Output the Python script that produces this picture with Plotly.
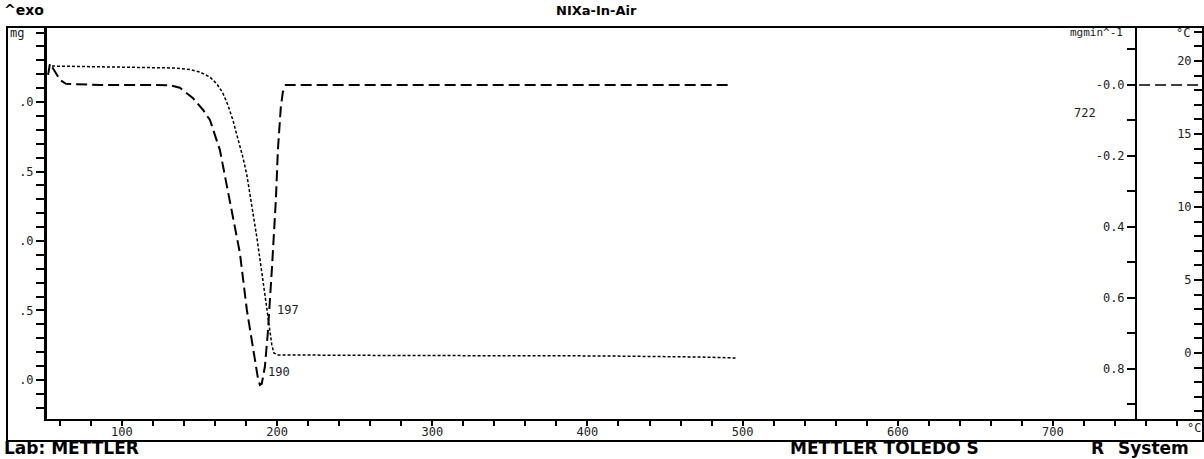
import plotly.graph_objects as go

# ---- data ----
# TGA curve (dotted), mass in mg vs temperature in °C
tga_T = [54.9, 85.8, 118.0, 134.1, 143.8, 150.2, 156.7, 161.2, 165.0, 168.3, 171.5, 174.7,
         177.9, 180.5, 183.7, 186.9, 190.1, 193.4, 195.3, 196.6, 197.9, 200.5, 279.0, 407.8,
         472.2, 496.6]
tga_mg = [4.259, 4.252, 4.248, 4.245, 4.234, 4.216, 4.180, 4.130, 4.065, 3.978, 3.870, 3.741,
          3.604, 3.475, 3.259, 3.029, 2.777, 2.504, 2.338, 2.252, 2.194, 2.180, 2.176, 2.173,
          2.165, 2.158]

# DTG curve (dashed), mg/min vs temperature in °C
dtg_T = [52.4, 53.6, 56.9, 60.1, 63.9, 85.8, 118.0, 130.9, 137.3, 145.7, 152.2, 156.7, 163.1,
         167.6, 172.1, 176.0, 180.5, 184.4, 187.6, 188.9, 190.1, 192.1, 194.0, 196.6, 199.2,
         200.5, 202.4, 203.7, 205.6, 491.5]
dtg_v = [0.028, 0.060, 0.037, 0.014, 0.003, 0.0, 0.0, -0.001, -0.008, -0.037, -0.070, -0.099,
         -0.183, -0.287, -0.380, -0.473, -0.634, -0.746, -0.825, -0.845, -0.842, -0.794, -0.699,
         -0.521, -0.324, -0.183, -0.062, -0.020, 0.0, 0.0]

# short dashed baseline mark to the right of the DTG axis
mark_T = [755.5, 794.0]
mark_v = [0.0, 0.0]

# axis ticks
x_ticks = [100, 200, 300, 400, 500, 600, 700]
mg_ticks = [2.0, 2.5, 3.0, 3.5, 4.0]
mg_labels = [".0", ".5", ".0", ".5", ".0"]
dtg_ticks = [0.0, -0.2, -0.4, -0.6, -0.8]
dtg_labels = ["-0.0", "-0.2", "0.4", "0.6", "0.8"]
temp_ticks = [0, 5, 10, 15, 20]
temp_labels = ["0", "5", "10", "15", "20"]

# peak annotations
peaks = [("197", 197), ("190", 190)]

W, H = 1204, 459
L, R, T, B = 47, 1, 27, 40
PW = W - L - R
PH = H - T - B


def px(x):
    return (x - L) / PW


def py(y):
    return (H - B - y) / PH


tick_font = dict(family="DejaVu Sans Mono", size=12, color="#222")

fig = go.Figure()
fig.add_trace(go.Scatter(x=tga_T, y=tga_mg, mode="lines", yaxis="y",
                         line=dict(color="black", width=1.5, dash="3px,2px"), hoverinfo="skip"))
fig.add_trace(go.Scatter(x=dtg_T, y=dtg_v, mode="lines", yaxis="y2",
                         line=dict(color="black", width=2, dash="11px,5px"), hoverinfo="skip"))
fig.add_trace(go.Scatter(x=mark_T, y=mark_v, mode="lines", yaxis="y2",
                         line=dict(color="black", width=1.5, dash="11px,5px"), hoverinfo="skip"))
fig.add_trace(go.Scatter(x=[None], y=[None], mode="lines", yaxis="y3", hoverinfo="skip"))

axis_common = dict(showgrid=False, zeroline=False, showline=True, linecolor="black",
                   ticks="outside", tickcolor="black", tickfont=tick_font)

fig.update_layout(
    width=W, height=H,
    margin=dict(l=L, r=R, t=T, b=B, pad=0),
    paper_bgcolor="white", plot_bgcolor="white",
    showlegend=False, hovermode=False,
    xaxis=dict(axis_common, range=[51.7, 796.7], tickmode="array", tickvals=x_ticks,
               ticklen=5, tickwidth=2, linewidth=2, ticklabelstandoff=-4,
               minor=dict(tickmode="linear", tick0=0, dtick=20, ticks="outside",
                          ticklen=5, tickwidth=2, tickcolor="black")),
    yaxis=dict(axis_common, range=[1.719, 4.540], tickmode="array", tickvals=mg_ticks,
               ticktext=mg_labels, ticklen=8, tickwidth=1.5, linewidth=3,
               minor=dict(tickmode="linear", tick0=0, dtick=0.1, ticks="outside",
                          ticklen=8, tickwidth=1.5, tickcolor="black")),
    yaxis2=dict(axis_common, overlaying="y", anchor="free", side="left",
                position=px(1136), range=[-0.941, 0.163], tickmode="array",
                tickvals=dtg_ticks, ticktext=dtg_labels, ticklen=8, tickwidth=1.5, linewidth=2,
                minor=dict(tickmode="linear", tick0=0, dtick=0.1, ticks="outside",
                           ticklen=8, tickwidth=1.5, tickcolor="black")),
    yaxis3=dict(axis_common, overlaying="y", anchor="free", side="left",
                position=1.0, range=[-4.52, 22.33], tickmode="array",
                tickvals=temp_ticks, ticktext=temp_labels, ticklen=8, tickwidth=1.5, linewidth=2,
                minor=dict(tickmode="linear", tick0=0, dtick=1, ticks="outside",
                           ticklen=8, tickwidth=1.5, tickcolor="black")),
)

# frame
frame = dict(type="line", xref="paper", yref="paper", line=dict(color="black", width=2))
fig.add_shape(frame, x0=px(6), x1=px(1204), y0=py(27), y1=py(27))
fig.add_shape(frame, x0=px(7), x1=px(7), y0=py(27), y1=py(441))
fig.add_shape(frame, x0=px(6), x1=px(1204), y0=py(441), y1=py(441))
fig.add_shape(frame, x0=px(1203), x1=px(1203), y0=py(419), y1=py(441))

bold = dict(family="DejaVu Sans", size=16, color="black", weight="bold")
small = dict(family="DejaVu Sans Mono", size=12, color="#222")


def ann(text, x, y, font, xanchor="left", yanchor="middle"):
    fig.add_annotation(text=text, x=px(x), y=py(y), xref="paper", yref="paper",
                       showarrow=False, font=font, xanchor=xanchor, yanchor=yanchor,
                       borderpad=0)


ann("^exo", 3, 10, dict(bold, size=14))
ann("NIXa-In-Air", 596, 10, dict(bold, size=13), xanchor="center")
ann("mg", 9, 33, small)
ann("mgmin^-1", 1124, 33, dict(small, size=11), xanchor="right")
ann("°C", 1183, 33, small, xanchor="center")
ann("722", 1085, 113, small, xanchor="center")
ann("°C", 1194, 428, small, xanchor="center")
ann("Lab: METTLER", 3, 459, dict(bold, size=17), yanchor="bottom")
ann("METTLER TOLEDO S", 789, 459, dict(bold, size=17), yanchor="bottom")
ann("R", 1090, 459, dict(bold, size=17), yanchor="bottom")
ann("System", 1117, 459, dict(bold, size=17), yanchor="bottom")

# peak temperature labels placed next to the curves
fig.add_annotation(text=peaks[0][0], x=peaks[0][1] + 1.5, y=2.5, xref="x", yref="y",
                   showarrow=False, font=small, xanchor="left", yanchor="middle")
fig.add_annotation(text=peaks[1][0], x=peaks[1][1] + 3, y=-0.81, xref="x", yref="y2",
                   showarrow=False, font=small, xanchor="left", yanchor="middle")

fig.write_html("out.html", config={"displayModeBar": False},
               post_script="document.body.style.margin='0';document.body.style.overflow='hidden';")
